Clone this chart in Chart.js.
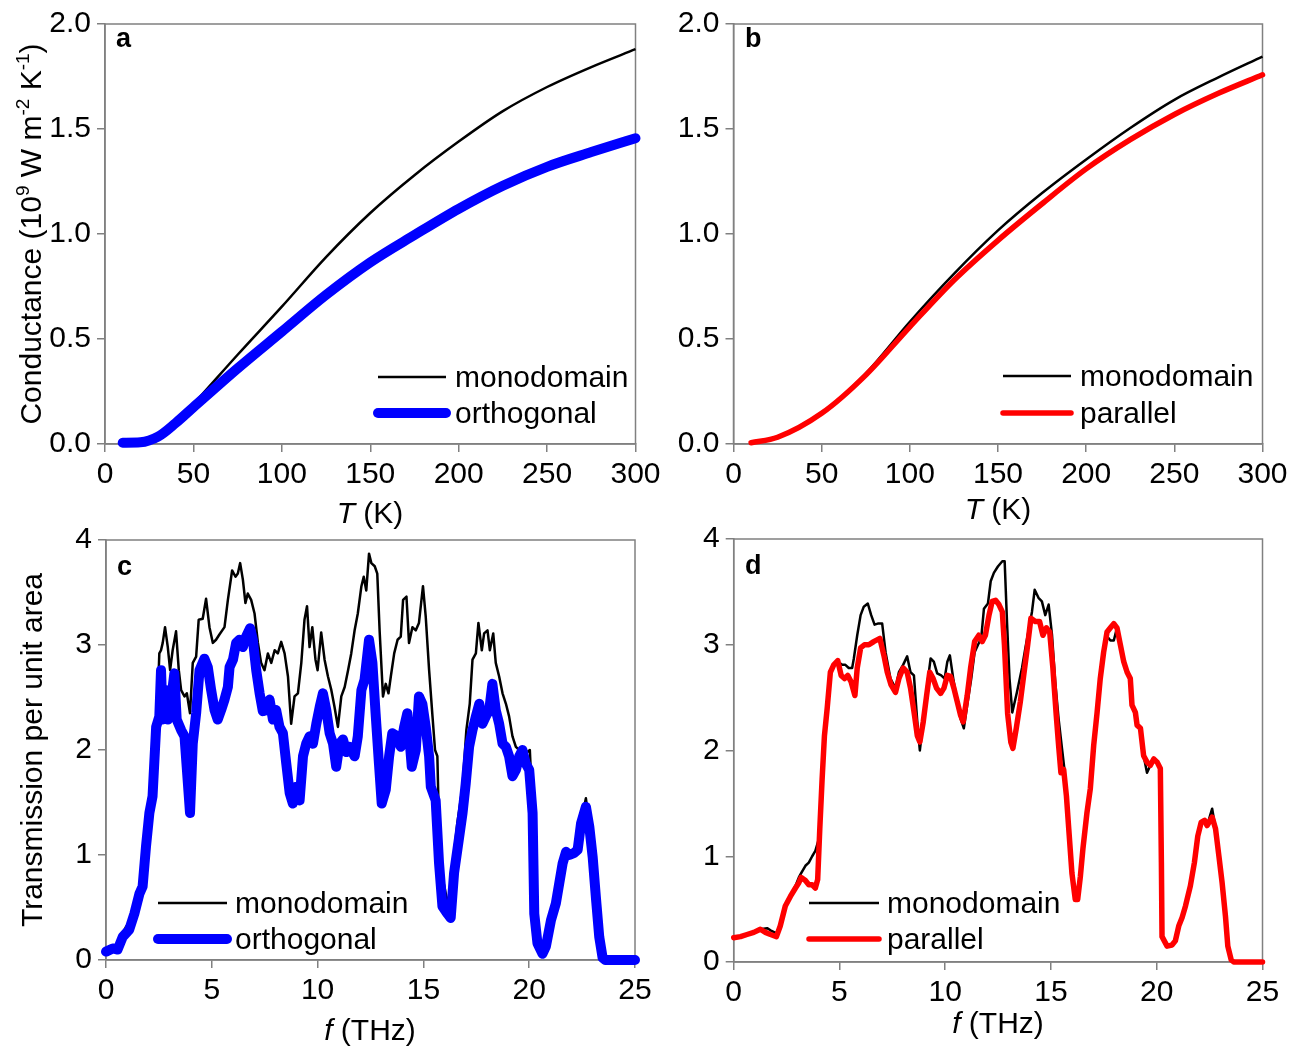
<!DOCTYPE html>
<html>
<head>
<meta charset="utf-8">
<script src="https://cdn.jsdelivr.net/npm/chart.js@4.4.1/dist/chart.umd.min.js"></script>
<style>
  body { margin: 0; background: #fff; }
  #wrap { position: relative; width: 1305px; height: 1052px; overflow: hidden; background: #fff; }
  canvas { position: absolute; }
</style>
</head>
<body>
<div id="wrap">
  <canvas id="chartA" width="700" height="540" style="left:0px;top:0px"></canvas>
  <canvas id="chartB" width="665" height="540" style="left:640px;top:0px"></canvas>
  <canvas id="chartC" width="700" height="552" style="left:0px;top:500px"></canvas>
  <canvas id="chartD" width="665" height="552" style="left:640px;top:500px"></canvas>
</div>
<script>
// panel a: conductance vs T
const tA = [10, 20, 30, 40, 50, 75, 100, 125, 150, 175, 200, 225, 250, 275, 300];
const aMono = [0.003, 0.008, 0.035, 0.10, 0.19, 0.425, 0.654, 0.89, 1.10, 1.28, 1.44, 1.585, 1.70, 1.795, 1.88];
const aOrth = [0.006, 0.008, 0.035, 0.10, 0.175, 0.36, 0.535, 0.71, 0.865, 0.995, 1.12, 1.23, 1.32, 1.39, 1.456];

// panel b
const tB = [10, 25, 50, 75, 100, 125, 150, 175, 200, 225, 250, 275, 300];
const bMono = [0.01, 0.035, 0.146, 0.336, 0.582, 0.81, 1.017, 1.195, 1.355, 1.505, 1.639, 1.746, 1.845];
const bPar = [0.006, 0.032, 0.146, 0.328, 0.558, 0.78, 0.97, 1.144, 1.31, 1.449, 1.569, 1.67, 1.758];

// panel c: transmission, monodomain
const fcMono = [
  0, 0.32, 0.55, 0.79, 0.95, 1.1, 1.34, 1.58, 1.73, 1.89,
  2.05, 2.2, 2.37, 2.44, 2.52, 2.6, 2.68, 2.79, 2.92, 3.03,
  3.15, 3.31, 3.44, 3.55, 3.71, 3.82, 3.97, 4.1, 4.26, 4.38,
  4.57, 4.73, 4.89, 5.05, 5.2, 5.36, 5.6, 5.76, 5.96, 6.12,
  6.23, 6.34, 6.47, 6.59, 6.7, 6.86, 7.02, 7.18, 7.33, 7.49,
  7.65, 7.81, 7.97, 8.12, 8.28, 8.44, 8.6, 8.75, 8.91, 9.07,
  9.23, 9.38, 9.5, 9.62, 9.75, 9.9, 10.0, 10.17, 10.33, 10.49,
  10.65, 10.8, 10.96, 11.12, 11.28, 11.44, 11.59, 11.75, 11.9, 12.07,
  12.18, 12.3, 12.43, 12.54, 12.7, 12.82, 12.93, 13.09, 13.22, 13.35,
  13.46, 13.62, 13.78, 13.93, 14.04, 14.2, 14.32, 14.48, 14.64, 14.79,
  14.98, 15.11, 15.27, 15.43, 15.55, 15.66, 15.74, 15.9, 16.09, 16.25,
  16.4, 16.6, 16.85, 17.03, 17.19, 17.32, 17.48, 17.6, 17.76, 17.87,
  18.03, 18.14, 18.3, 18.42, 18.58, 18.74, 18.9, 19.05, 19.21, 19.37,
  19.53, 19.68, 19.84, 20.03, 20.16, 20.24, 20.39, 20.63, 20.79, 21.03,
  21.26, 21.42, 21.58, 21.74, 21.9, 22.13, 22.29, 22.45, 22.68, 22.84,
  23.0, 23.15, 23.31, 23.47, 23.6, 25
];
const cMono = [
  0.10, 0.13, 0.12, 0.25, 0.32, 0.33, 0.48, 0.65, 0.72, 1.10,
  1.42, 1.59, 2.22, 2.45, 2.92, 2.95, 3.02, 3.17, 2.98, 2.76,
  2.95, 3.13, 2.76, 2.57, 2.51, 2.54, 2.35, 2.83, 2.89, 3.24,
  3.25, 3.44, 3.17, 3.02, 3.05, 3.10, 3.17, 3.43, 3.71, 3.65,
  3.68, 3.78, 3.62, 3.40, 3.49, 3.43, 3.30, 3.02, 2.83, 2.76,
  2.92, 2.83, 2.95, 2.92, 3.03, 2.92, 2.70, 2.25, 2.51, 2.54,
  2.83, 3.24, 3.37, 2.98, 3.17, 2.86, 2.76, 3.12, 2.86, 2.70,
  2.57, 2.41, 2.22, 2.51, 2.60, 2.76, 2.92, 3.14, 3.30, 3.56,
  3.65, 3.52, 3.87, 3.78, 3.75, 3.68, 3.14, 2.51, 2.63, 2.54,
  2.70, 2.92, 3.05, 3.08, 3.43, 3.46, 3.02, 3.17, 3.14, 3.21,
  3.56, 3.27, 2.76, 2.32, 2.00, 1.94, 1.24, 0.79, 0.60, 0.51,
  0.92, 1.30, 1.65, 2.19, 2.44, 2.86, 2.92, 3.21, 2.95, 3.11,
  3.14, 2.95, 3.11, 2.83, 2.70, 2.54, 2.44, 2.32, 2.13, 2.03,
  2.00, 2.03, 1.97, 2.00, 1.42, 0.46, 0.17, 0.07, 0.14, 0.39,
  0.55, 0.74, 0.93, 1.04, 1.01, 1.03, 1.07, 1.32, 1.54, 1.28,
  0.99, 0.61, 0.23, 0.03, 0, 0
];

// panel c: orthogonal
const fcOrth = [
  0, 0.32, 0.55, 0.79, 1.1, 1.34, 1.58, 1.73, 1.89, 2.05,
  2.2, 2.37, 2.52, 2.6, 2.68, 2.84, 2.92, 3.08, 3.23, 3.34,
  3.55, 3.71, 3.86, 3.97, 4.1, 4.26, 4.42, 4.65, 4.81, 4.97,
  5.13, 5.28, 5.44, 5.6, 5.76, 5.84, 6.0, 6.15, 6.31, 6.47,
  6.62, 6.81, 6.94, 7.1, 7.26, 7.41, 7.57, 7.73, 7.89, 8.04,
  8.2, 8.36, 8.52, 8.68, 8.83, 8.99, 9.15, 9.31, 9.46, 9.62,
  9.78, 9.94, 10.1, 10.25, 10.41, 10.57, 10.73, 10.88, 11.04, 11.2,
  11.36, 11.51, 11.75, 11.9, 12.07, 12.22, 12.43, 12.59, 12.74, 12.9,
  13.03, 13.22, 13.38, 13.53, 13.69, 13.93, 14.09, 14.24, 14.32, 14.45,
  14.64, 14.79, 14.95, 15.11, 15.27, 15.35, 15.58, 15.74, 15.9, 16.14,
  16.29, 16.45, 16.69, 16.85, 17.0, 17.16, 17.32, 17.48, 17.64, 17.79,
  17.95, 18.11, 18.26, 18.42, 18.58, 18.74, 18.9, 19.05, 19.21, 19.37,
  19.53, 19.68, 19.84, 20.0, 20.16, 20.24, 20.39, 20.63, 20.79, 21.03,
  21.26, 21.42, 21.58, 21.74, 21.9, 22.13, 22.29, 22.45, 22.68, 22.84,
  23.0, 23.15, 23.31, 23.47, 23.6, 25
];
const cOrth = [
  0.08, 0.11, 0.10, 0.22, 0.29, 0.44, 0.63, 0.70, 1.08, 1.40,
  1.56, 2.22, 2.32, 2.76, 2.29, 2.57, 2.29, 2.48, 2.73, 2.29,
  2.19, 2.13, 1.71, 1.40, 2.06, 2.35, 2.76, 2.87, 2.79, 2.57,
  2.38, 2.29, 2.38, 2.48, 2.60, 2.79, 2.86, 3.02, 3.05, 2.98,
  3.08, 3.16, 3.05, 2.76, 2.54, 2.37, 2.38, 2.48, 2.29, 2.38,
  2.22, 2.16, 1.87, 1.59, 1.49, 1.65, 1.52, 1.94, 2.06, 2.13,
  2.06, 2.25, 2.41, 2.54, 2.38, 2.16, 2.06, 1.84, 2.06, 2.10,
  1.98, 2.03, 1.94, 2.13, 2.57, 2.67, 3.05, 2.83, 2.35, 1.87,
  1.49, 1.62, 1.94, 2.16, 2.14, 2.03, 2.22, 2.35, 2.16, 1.84,
  2.00, 2.51, 2.44, 2.22, 1.94, 1.65, 1.52, 0.92, 0.51, 0.44,
  0.40, 0.83, 1.17, 1.40, 1.68, 2.03, 2.19, 2.32, 2.44, 2.25,
  2.32, 2.38, 2.63, 2.38, 2.25, 2.06, 2.03, 1.94, 1.75, 1.81,
  1.94, 2.00, 1.87, 1.81, 1.40, 0.44, 0.16, 0.06, 0.13, 0.38,
  0.54, 0.73, 0.92, 1.03, 1.00, 1.02, 1.05, 1.30, 1.46, 1.27,
  0.98, 0.60, 0.22, 0.02, 0, 0
];

// panel d: monodomain
const fdMono = [
  0, 0.32, 0.63, 0.95, 1.26, 1.58, 1.74, 2.02, 2.2, 2.44,
  2.68, 2.92, 3.08, 3.19, 3.39, 3.55, 3.71, 3.86, 4.02, 4.18,
  4.29, 4.42, 4.57, 4.73, 4.92, 5.13, 5.28, 5.44, 5.6, 5.68,
  5.84, 6.0, 6.15, 6.34, 6.5, 6.66, 6.81, 7.02, 7.18, 7.41,
  7.65, 7.81, 8.01, 8.2, 8.36, 8.52, 8.68, 8.8, 8.99, 9.15,
  9.31, 9.46, 9.62, 9.81, 9.97, 10.1, 10.22, 10.38, 10.57, 10.73,
  10.88, 11.04, 11.23, 11.39, 11.55, 11.7, 11.83, 12.02, 12.15, 12.3,
  12.49, 12.7, 12.81, 12.92, 13.04, 13.17, 13.39, 13.63, 13.79, 13.99,
  14.1, 14.23, 14.42, 14.57, 14.73, 14.89, 15.05, 15.2, 15.36, 15.52,
  15.63, 15.73, 15.84, 15.99, 16.15, 16.26, 16.39, 16.51, 16.7, 16.86,
  17.02, 17.18, 17.33, 17.49, 17.65, 17.81, 17.97, 18.12, 18.28, 18.44,
  18.6, 18.75, 18.83, 18.99, 19.07, 19.23, 19.38, 19.54, 19.7, 19.86,
  20.02, 20.17, 20.22, 20.25, 20.49, 20.72, 20.88, 21.04, 21.2, 21.36,
  21.59, 21.78, 21.94, 22.1, 22.26, 22.38, 22.62, 22.78, 22.94, 23.09,
  23.25, 23.36, 23.52, 23.64, 25
];
const dMono = [
  0.23, 0.24, 0.26, 0.28, 0.31, 0.32, 0.30, 0.27, 0.36, 0.53,
  0.62, 0.72, 0.80, 0.84, 0.91, 0.94, 1.00, 1.05, 1.16, 1.73,
  2.14, 2.40, 2.74, 2.81, 2.84, 2.81, 2.81, 2.78, 2.78, 2.87,
  3.09, 3.28, 3.36, 3.39, 3.28, 3.19, 3.20, 3.20, 2.93, 2.68,
  2.59, 2.74, 2.81, 2.89, 2.74, 2.71, 2.27, 2.00, 2.33, 2.62,
  2.87, 2.84, 2.73, 2.71, 2.68, 2.84, 2.90, 2.68, 2.46, 2.30,
  2.21, 2.43, 2.68, 2.93, 3.00, 3.06, 3.34, 3.39, 3.60, 3.68,
  3.74, 3.79, 3.79, 3.22, 2.68, 2.36, 2.55, 2.78, 2.97, 3.19,
  3.31, 3.52, 3.44, 3.41, 3.28, 3.38, 3.09, 2.65, 2.30, 2.02,
  1.83, 1.57, 1.26, 0.84, 0.59, 0.59, 0.81, 1.07, 1.41, 1.64,
  2.05, 2.36, 2.68, 2.93, 3.08, 3.04, 3.04, 3.16, 3.00, 2.84,
  2.74, 2.68, 2.43, 2.36, 2.24, 2.21, 1.95, 1.79, 1.86, 1.92,
  1.89, 1.83, 0.94, 0.24, 0.15, 0.16, 0.20, 0.34, 0.42, 0.53,
  0.72, 0.94, 1.19, 1.32, 1.34, 1.29, 1.45, 1.26, 1.00, 0.75,
  0.43, 0.15, 0.02, 0, 0
];

// panel d: parallel
const fdPar = [
  0, 0.32, 0.63, 0.95, 1.26, 1.5, 1.74, 2.02, 2.2, 2.44,
  2.68, 2.92, 3.08, 3.19, 3.39, 3.55, 3.71, 3.86, 3.97, 4.07,
  4.18, 4.29, 4.42, 4.57, 4.73, 4.92, 5.08, 5.24, 5.39, 5.55,
  5.73, 5.84, 6.0, 6.18, 6.39, 6.62, 6.91, 7.1, 7.26, 7.44,
  7.65, 7.81, 8.01, 8.2, 8.36, 8.55, 8.68, 8.8, 8.96, 9.12,
  9.27, 9.43, 9.59, 9.78, 9.94, 10.1, 10.25, 10.41, 10.57, 10.73,
  10.85, 11.04, 11.2, 11.39, 11.59, 11.75, 11.9, 12.07, 12.22, 12.38,
  12.54, 12.7, 12.8, 12.95, 13.1, 13.2, 13.36, 13.55, 13.71, 13.9,
  14.05, 14.26, 14.46, 14.62, 14.78, 14.94, 15.09, 15.25, 15.36, 15.47,
  15.6, 15.73, 15.84, 15.99, 16.15, 16.26, 16.39, 16.51, 16.7, 16.86,
  17.02, 17.18, 17.33, 17.49, 17.65, 17.81, 17.97, 18.12, 18.28, 18.44,
  18.6, 18.75, 18.83, 18.99, 19.07, 19.23, 19.38, 19.54, 19.7, 19.86,
  20.02, 20.17, 20.22, 20.25, 20.49, 20.72, 20.88, 21.04, 21.2, 21.36,
  21.59, 21.78, 21.94, 22.1, 22.26, 22.38, 22.62, 22.78, 22.94, 23.09,
  23.25, 23.36, 23.52, 23.64, 25
];
const dPar = [
  0.23, 0.24, 0.26, 0.28, 0.31, 0.28, 0.26, 0.24, 0.34, 0.53,
  0.62, 0.70, 0.75, 0.80, 0.77, 0.73, 0.73, 0.70, 0.78, 1.26,
  1.73, 2.14, 2.40, 2.74, 2.81, 2.85, 2.71, 2.68, 2.71, 2.65,
  2.52, 2.78, 2.97, 3.00, 3.00, 3.03, 3.06, 2.90, 2.74, 2.62,
  2.55, 2.68, 2.78, 2.74, 2.59, 2.33, 2.14, 2.08, 2.27, 2.52,
  2.74, 2.68, 2.59, 2.54, 2.59, 2.71, 2.70, 2.59, 2.46, 2.33,
  2.27, 2.52, 2.78, 3.03, 3.09, 3.03, 3.09, 3.28, 3.41, 3.42,
  3.38, 3.31, 3.00, 2.35, 2.08, 2.02, 2.21, 2.46, 2.71, 3.00,
  3.25, 3.22, 3.22, 3.09, 3.16, 3.12, 2.78, 2.33, 2.05, 1.79,
  1.82, 1.57, 1.26, 0.84, 0.59, 0.59, 0.81, 1.07, 1.41, 1.64,
  2.05, 2.36, 2.68, 2.93, 3.12, 3.16, 3.20, 3.16, 3.00, 2.84,
  2.74, 2.68, 2.43, 2.36, 2.24, 2.21, 1.95, 1.89, 1.86, 1.92,
  1.89, 1.83, 0.94, 0.24, 0.15, 0.16, 0.20, 0.34, 0.42, 0.53,
  0.72, 0.94, 1.19, 1.32, 1.34, 1.29, 1.37, 1.26, 1.00, 0.75,
  0.43, 0.15, 0.02, 0, 0
];

const FONT = '"Liberation Sans", Arial, Helvetica, sans-serif';
const GRAY = '#808080';

function pts(xs, ys) {
  return xs.map((x, i) => ({ x: x, y: ys[i] }));
}

function segFont(kind) {
  if (kind === 'it') return 'italic 30px ' + FONT;
  if (kind === 'sup') return '19px ' + FONT;
  return '30px ' + FONT;
}

// draws text made of pieces (normal / italic / superscript), centred on x
function drawRich(ctx, segs, x, y) {
  let w = 0;
  segs.forEach(s => { ctx.font = segFont(s[1]); w += ctx.measureText(s[0]).width; });
  let cx = x - w / 2;
  segs.forEach(s => {
    ctx.font = segFont(s[1]);
    ctx.fillText(s[0], cx, s[1] === 'sup' ? y - 12 : y);
    cx += ctx.measureText(s[0]).width;
  });
}

function makeDecor(d) {
  return {
    id: 'decor',
    beforeDatasetsDraw(chart) {
      const a = chart.chartArea, ctx = chart.ctx;
      ctx.save();
      ctx.strokeStyle = GRAY;
      ctx.lineWidth = 1.5;
      ctx.strokeRect(a.left, a.top, a.right - a.left, a.bottom - a.top);
      ctx.restore();
    },
    afterDraw(chart) {
      const ctx = chart.ctx;
      ctx.save();
      ctx.translate(-d.ox, -d.oy);
      ctx.fillStyle = '#000';
      ctx.textAlign = 'left';
      ctx.textBaseline = 'alphabetic';
      ctx.font = 'bold 27px ' + FONT;
      ctx.fillText(d.letter, d.lpos[0], d.lpos[1]);
      drawRich(ctx, d.xTitle, d.xpos[0], d.xpos[1]);
      if (d.yTitle) {
        ctx.save();
        ctx.translate(d.ypos[0], d.ypos[1]);
        ctx.rotate(-Math.PI / 2);
        drawRich(ctx, d.yTitle, 0, 0);
        ctx.restore();
      }
      d.legend.forEach(it => {
        ctx.strokeStyle = it.color;
        ctx.lineWidth = it.width;
        ctx.lineCap = it.width > 3 ? 'round' : 'butt';
        ctx.beginPath();
        ctx.moveTo(d.lx[0], it.y);
        ctx.lineTo(d.lx[1], it.y);
        ctx.stroke();
        ctx.font = '30px ' + FONT;
        ctx.fillText(it.label, d.lx[2], it.y + 10);
      });
      ctx.restore();
    }
  };
}

function makePanel(id, cfg) {
  return new Chart(document.getElementById(id), {
    type: 'line',
    data: { datasets: cfg.sets },
    options: {
      responsive: false,
      animation: false,
      events: [],
      layout: { padding: cfg.pad },
      plugins: { legend: { display: false }, tooltip: { enabled: false } },
      elements: { point: { radius: 0 }, line: { borderJoinStyle: 'round' } },
      scales: {
        x: {
          type: 'linear', min: cfg.x[0], max: cfg.x[1],
          ticks: { stepSize: cfg.x[2], color: '#000', font: { family: FONT, size: 30 }, padding: 5, maxRotation: 0 },
          grid: { drawOnChartArea: false, tickLength: 8, color: GRAY, lineWidth: 1.5 },
          border: { color: GRAY, width: 1.5 },
          afterFit: s => { s.height = 50; }
        },
        y: {
          type: 'linear', min: cfg.y[0], max: cfg.y[1],
          ticks: {
            stepSize: cfg.y[2], color: '#000', font: { family: FONT, size: 30 }, padding: 6,
            callback: v => cfg.y[2] < 1 ? v.toFixed(1) : String(v)
          },
          grid: { drawOnChartArea: false, tickLength: 8, color: GRAY, lineWidth: 1.5 },
          border: { color: GRAY, width: 1.5 },
          afterFit: s => { s.width = cfg.yw; }
        }
      }
    },
    plugins: [makeDecor(cfg.decor)]
  });
}

function line(xs, ys, color, width, order, smooth) {
  return {
    data: pts(xs, ys),
    borderColor: color,
    borderWidth: width,
    borderCapStyle: width > 3 ? 'round' : 'butt',
    cubicInterpolationMode: smooth ? 'monotone' : 'default',
    tension: 0,
    clip: false,
    order: order
  };
}

const xT = [[ 'T', 'it' ], [ ' (K)', 'n' ]];
const xF = [[ 'f', 'it' ], [ ' (THz)', 'n' ]];

makePanel('chartA', {
  sets: [line(tA, aMono, '#000000', 2.5, 2, true), line(tA, aOrth, '#0000ff', 10, 1, true)],
  pad: { left: 5, top: 24, right: 64.5, bottom: 46 },
  x: [0, 300, 50], y: [0, 2, 0.5], yw: 100,
  decor: {
    ox: 0, oy: 0, letter: 'a', lpos: [116, 47],
    xTitle: xT, xpos: [370, 523],
    yTitle: [['Conductance (10', 'n'], ['9', 'sup'], [' W m', 'n'], ['-2', 'sup'], [' K', 'n'], ['-1', 'sup'], [')', 'n']],
    ypos: [41, 234],
    lx: [378, 446, 455],
    legend: [{ label: 'monodomain', color: '#000000', width: 2.5, y: 377 },
             { label: 'orthogonal', color: '#0000ff', width: 10, y: 413 }]
  }
});

makePanel('chartB', {
  sets: [line(tB, bMono, '#000000', 2.5, 2, true), line(tB, bPar, '#ff0000', 5.5, 1, true)],
  pad: { left: 3.5, top: 23, right: 42.5, bottom: 46 },
  x: [0, 300, 50], y: [0, 2, 0.5], yw: 90,
  decor: {
    ox: 640, oy: 0, letter: 'b', lpos: [745, 47],
    xTitle: xT, xpos: [998, 519],
    lx: [1003, 1071, 1080],
    legend: [{ label: 'monodomain', color: '#000000', width: 2.5, y: 376 },
             { label: 'parallel', color: '#ff0000', width: 5.5, y: 413 }]
  }
});

makePanel('chartC', {
  sets: [line(fcMono, cMono, '#000000', 2.5, 2, false), line(fcOrth, cOrth, '#0000ff', 10, 1, false)],
  pad: { left: 6, top: 40, right: 65, bottom: 42 },
  x: [0, 25, 5], y: [0, 4, 1], yw: 100,
  decor: {
    ox: 0, oy: 500, letter: 'c', lpos: [117, 575],
    xTitle: xF, xpos: [370, 1040],
    yTitle: [['Transmission per unit area', 'n']],
    ypos: [42, 750],
    lx: [158, 227, 235],
    legend: [{ label: 'monodomain', color: '#000000', width: 2.5, y: 903 },
             { label: 'orthogonal', color: '#0000ff', width: 10, y: 939 }]
  }
});

makePanel('chartD', {
  sets: [line(fdMono, dMono, '#000000', 2.5, 2, false), line(fdPar, dPar, '#ff0000', 5.5, 1, false)],
  pad: { left: 3.7, top: 39, right: 42.5, bottom: 40 },
  x: [0, 25, 5], y: [0, 4, 1], yw: 90,
  decor: {
    ox: 640, oy: 500, letter: 'd', lpos: [745, 574],
    xTitle: xF, xpos: [998, 1033],
    lx: [809, 879, 887],
    legend: [{ label: 'monodomain', color: '#000000', width: 2.5, y: 903 },
             { label: 'parallel', color: '#ff0000', width: 5.5, y: 939 }]
  }
});
</script>
</body>
</html>
